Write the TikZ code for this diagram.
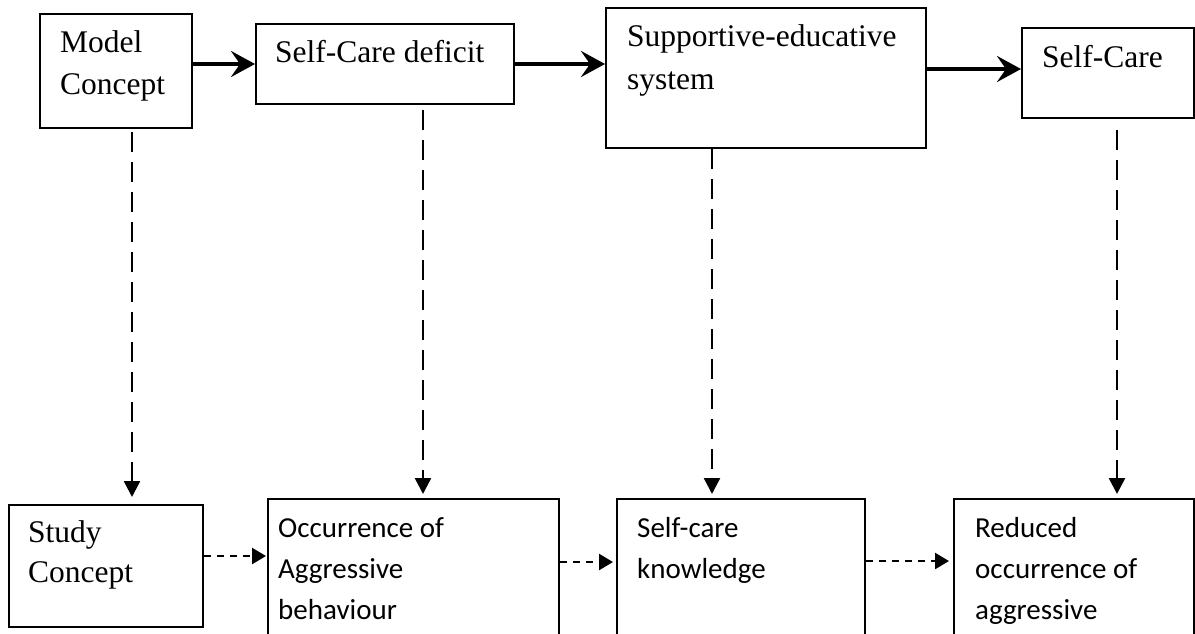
\documentclass[tikz,border=0pt]{standalone}
\usepackage{fontspec}
\setmainfont{Liberation Serif}
\newfontfamily\calib{Carlito}
\usetikzlibrary{arrows.meta,calc}
\begin{document}
\begin{tikzpicture}[x=1pt,y=-1pt,
  box/.style={draw, line width=2pt, inner sep=0pt, anchor=north west},
  ser/.style={anchor=base west, inner sep=0pt, font=\fontsize{31.5}{38}\selectfont},
  san/.style={anchor=base west, inner sep=0pt, font=\calib\fontsize{29}{35}\selectfont},
  solidarr/.style={line width=3.8pt, -{Stealth[length=24pt,width=26pt,inset=9pt]}},
  vdash/.style={line width=2.5pt, dash pattern=on 20pt off 10pt, -{Triangle[length=16pt,width=16pt]}},
  hdash/.style={line width=2.5pt, dash pattern=on 7pt off 6pt, -{Triangle[length=14pt,width=16pt]}},
]
\useasboundingbox (0,0) rectangle (1195,634);
\clip (0,0) rectangle (1195,634);

% top row boxes
\node[box, minimum width=152pt, minimum height=114pt] (model) at (39,13) {};
\node[box, minimum width=258pt, minimum height=80pt] (scd) at (255,23) {};
\node[box, minimum width=320pt, minimum height=140pt] (sup) at (605,7) {};
\node[box, minimum width=172pt, minimum height=90pt] (sc) at (1021,27) {};

% bottom row boxes
\node[box, minimum width=194pt, minimum height=122pt] (study) at (8,504) {};
\node[box, minimum width=291pt, minimum height=150pt] (occ) at (267,498) {};
\node[box, minimum width=248pt, minimum height=150pt] (skn) at (616,498) {};
\node[box, minimum width=240pt, minimum height=150pt] (red) at (953,498) {};

% texts
\node[ser] (t1a) at (60,53) {Model};
\node[ser] (t1b) at (60,95) {Concept};
\node[ser] (t2) at (275,63) {Self-Care deficit};
\node[ser] (t3a) at (627,47) {Supportive-educative};
\node[ser] (t3b) at (627,89) {system};
\node[ser] (t4) at (1042,67) {Self-Care};
\node[ser] (t5a) at (28,542) {Study};
\node[ser] (t5b) at (28,582) {Concept};
\node[san] (t6a) at (278,537) {Occurrence of};
\node[san] (t6b) at (278,578) {Aggressive};
\node[san] (t6c) at (278,619) {behaviour};
\node[san] (t7a) at (637,537) {Self-care};
\node[san] (t7b) at (637,578) {knowledge};
\node[san] (t8a) at (975,537) {Reduced};
\node[san] (t8b) at (975,578) {occurrence of};
\node[san] (t8c) at (975,619) {aggressive};

% solid arrows
\draw[solidarr] (model.east |- scd.west) -- (scd.west);
\draw[solidarr] (scd.east) -- (sup.west |- scd.east);
\draw[solidarr] ($(sup.east |- sc.west)+(0,-4)$) -- ($(sc.west)+(0,-4)$);

% vertical dashed arrows
\coordinate (x1) at (132,0);
\coordinate (x2) at (423,0);
\coordinate (x3) at (712,0);
\coordinate (x4) at (1117,0);
\draw[vdash, shorten <=3pt, shorten >=7pt] (model.south -| x1) -- (study.north -| x1);
\draw[vdash, shorten <=5pt, shorten >=4pt] (scd.south -| x2) -- (occ.north -| x2);
\draw[vdash, shorten >=4pt] (sup.south -| x3) -- (skn.north -| x3);
\draw[vdash, shorten <=11pt, shorten >=4pt] (sc.south -| x4) -- (red.north -| x4);

% horizontal dashed arrows
\coordinate (y1) at (0,556);
\coordinate (y2) at (0,562);
\coordinate (y3) at (0,561);
\draw[hdash, shorten >=1pt] (study.east |- y1) -- (occ.west |- y1);
\draw[hdash, shorten >=3pt] (occ.east |- y2) -- (skn.west |- y2);
\draw[hdash, shorten >=4pt] (skn.east |- y3) -- (red.west |- y3);
\end{tikzpicture}
\end{document}
